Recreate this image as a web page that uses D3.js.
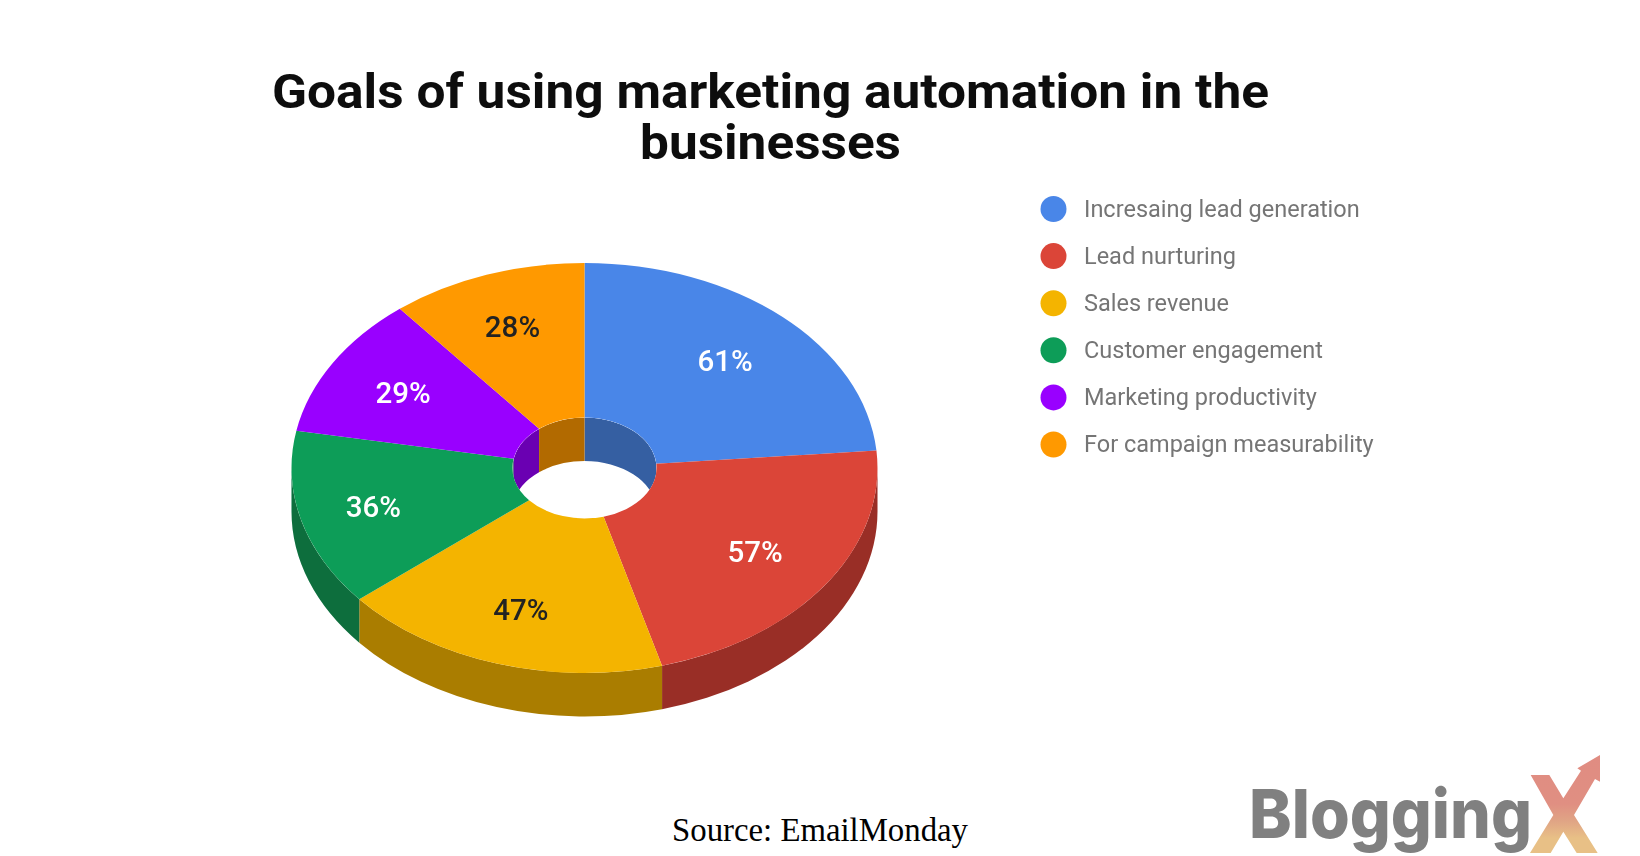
<!DOCTYPE html>
<html><head><meta charset="utf-8">
<script src="https://cdn.jsdelivr.net/npm/d3@7/dist/d3.min.js"></script>
<style>html,body{margin:0;padding:0;background:#fff}svg{display:block}</style>
</head><body><svg id="c" width="1640" height="856"></svg>
<script>
const categories = ["Incresaing lead generation","Lead nurturing","Sales revenue","Customer engagement","Marketing productivity","For campaign measurability"];
const values = [61,57,47,36,29,28];
const colors = ["#4a86e8","#db4437","#f4b400","#0f9d58","#9900ff","#ff9900"];
const sideColors = ["#345ea2","#992f27","#aa7d00","#0a6e3d","#6b00b2","#b26b00"];
const labelColors = ["#fff","#fff","#222","#fff","#fff","#222"];
const titleLines = ["Goals of using marketing automation in the","businesses"];

const cx=584.5, cy=468, rx=293, ry=205, depth=43.5, holeFrac=0.246;
const labelFracs=[0.71,0.71,0.725,0.745,0.72,0.735];
const svg=d3.select("#c");
const defs=svg.append("defs");
defs.append("filter").attr("id","soft").append("feGaussianBlur").attr("stdDeviation",0.6);
const grad=defs.append("linearGradient").attr("id","xg").attr("x1",0).attr("y1",0).attr("x2",0).attr("y2",1);
[[0,"#e08c82"],[0.5,"#e08f82"],[0.68,"#e0a585"],[0.85,"#e8c086"],[1,"#e8c086"]].forEach(s=>grad.append("stop").attr("offset",s[0]).attr("stop-color",s[1]));

const pie=d3.pie().sort(null).startAngle(0).endAngle(2*Math.PI)(values);
const px=(a,k)=>cx+rx*k*Math.sin(a), py=(a,k)=>cy-ry*k*Math.cos(a);

function wall(a0,a1,k){
  const Rx=rx*k,Ry=ry*k, large=(a1-a0)>Math.PI?1:0;
  return `M${px(a0,k)},${py(a0,k)}A${Rx},${Ry} 0 ${large} 1 ${px(a1,k)},${py(a1,k)}`+
         `L${px(a1,k)},${py(a1,k)+depth}A${Rx},${Ry} 0 ${large} 0 ${px(a0,k)},${py(a0,k)+depth}Z`;
}
const chart=svg.append("g").attr("filter","url(#soft)");
// outer side, front half of the ring only
pie.forEach((d,i)=>{
  const a0=Math.max(d.startAngle,Math.PI/2), a1=Math.min(d.endAngle,3*Math.PI/2);
  if(a1>a0) chart.append("path").attr("d",wall(a0,a1,1)).attr("fill",sideColors[i]);
});
// hole wall, back half only
const holeClip=defs.append("clipPath").attr("id","hole");
holeClip.append("ellipse").attr("cx",cx).attr("cy",cy).attr("rx",rx*holeFrac).attr("ry",ry*holeFrac);
const inner=chart.append("g").attr("clip-path","url(#hole)");
pie.forEach((d,i)=>{
  [[d.startAngle,Math.min(d.endAngle,Math.PI/2)],[Math.max(d.startAngle,3*Math.PI/2),d.endAngle]].forEach(([a0,a1])=>{
    if(a1>a0) inner.append("path").attr("d",wall(a0,a1,holeFrac)).attr("fill",sideColors[i]);
  });
});
// top faces
const arc=d3.arc().innerRadius(rx*holeFrac).outerRadius(rx);
const faces=chart.append("g").attr("transform",`translate(${cx},${cy}) scale(1,${ry/rx})`);
faces.selectAll("path").data(pie).join("path").attr("d",arc).attr("fill",(d,i)=>colors[i]);

// slice labels
svg.append("g").attr("filter","url(#soft)").selectAll("text").data(pie).join("text")
  .attr("x",(d,i)=>px((d.startAngle+d.endAngle)/2,labelFracs[i]))
  .attr("y",(d,i)=>py((d.startAngle+d.endAngle)/2,labelFracs[i]))
  .attr("dy",".36em").attr("text-anchor","middle")
  .attr("font-family","Roboto").attr("font-weight",500).attr("font-size",29.5)
  .attr("fill",(d,i)=>labelColors[i]).text(d=>d.value+"%");

// title
const titleG=svg.append("g").attr("font-family","Roboto").attr("font-weight",700).attr("font-size",48).attr("fill","#111").attr("filter","url(#soft)");
titleG.append("text").attr("x",272).attr("y",108).attr("textLength",997).attr("lengthAdjust","spacingAndGlyphs").text(titleLines[0]);
titleG.append("text").attr("x",640).attr("y",159).attr("textLength",261).attr("lengthAdjust","spacingAndGlyphs").text(titleLines[1]);

// legend
const leg=svg.append("g").attr("filter","url(#soft)");
categories.forEach((c,i)=>{
  const y=209+47.1*i;
  leg.append("circle").attr("cx",1053.5).attr("cy",y).attr("r",13).attr("fill",colors[i]);
  leg.append("text").attr("x",1084).attr("y",y+7.5).attr("font-family","Roboto").attr("font-size",23.5).attr("fill","#757575").text(c);
});

// source
svg.append("text").attr("x",672).attr("y",841).attr("font-family","Liberation Serif").attr("font-size",32.8).attr("fill","#000").text("Source: EmailMonday");

// logo
svg.append("text").attr("x",1249).attr("y",838).attr("font-family","Inter").attr("font-weight",800).attr("font-size",68).attr("fill","#808080")
  .attr("textLength",283).attr("lengthAdjust","spacingAndGlyphs").text("Blogging");
const xPts=[[992,165],[1048,165],[1090,235],[1143,152],[1132,145],[1200,105],[1200,185],[1185,177],[1122,285],[1193,399],[1130,399],[1090,335],[1052,399],[990,399],[1060,285]];
svg.append("path").attr("d",d3.line().x(p=>1200+p[0]/3).y(p=>720+p[1]/3)(xPts)+"Z").attr("fill","url(#xg)");
</script></body></html>
